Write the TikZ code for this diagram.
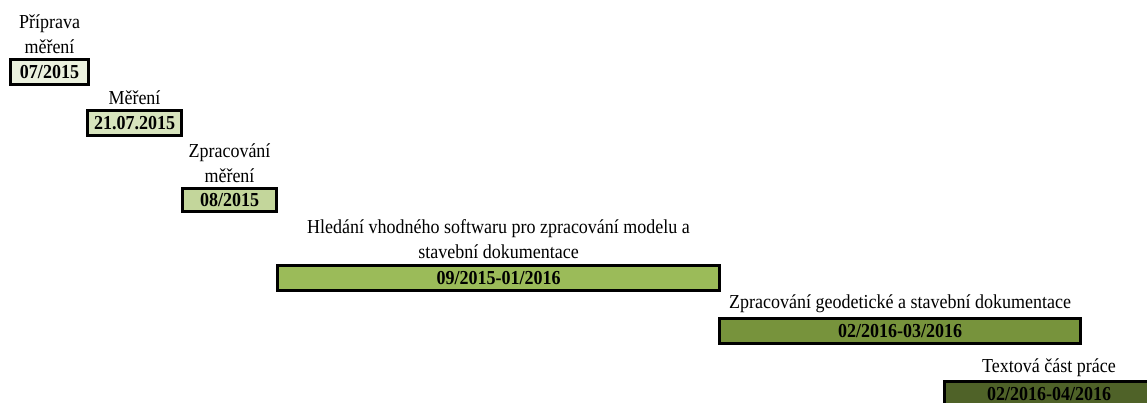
\documentclass[tikz,border=0pt]{standalone}
\usepackage{graphicx}
\usepackage{fontspec}
\setmainfont{Liberation Serif}
\usetikzlibrary{positioning}
\definecolor{cA}{HTML}{EBF1DE}
\definecolor{cB}{HTML}{D7E4BD}
\definecolor{cC}{HTML}{C3D69B}
\definecolor{cD}{HTML}{9BBB59}
\definecolor{cE}{HTML}{77933C}
\definecolor{cF}{HTML}{4F6228}
\newcommand\tall[1]{\scalebox{1}[1.1]{#1}}
\newcommand\lbl[1]{\scalebox{1}[1.1]{\begin{tabular}[b]{@{}c@{}}#1\end{tabular}}}
\tikzset{
  datebox/.style={draw=black, line width=3pt, rectangle, inner sep=0pt,
    minimum height=25pt, font=\fontsize{18}{22.7}\selectfont\bfseries, text=black},
  tasklabel/.style={inner sep=0pt, text depth=0pt,
    font=\fontsize{18}{22.7}\selectfont, text=black}
}
\begin{document}
\begin{tikzpicture}[x=1pt,y=-1pt]
\path[use as bounding box] (0,0) rectangle (1147,403);
\clip (0,0) rectangle (1147,403);
\node[datebox, fill=cA, minimum width=78pt] (b1) at (49.5,72.5) {\tall{07/2015}};
\node[datebox, fill=cB, minimum width=94pt] (b2) at (134.5,123) {\tall{21.07.2015}};
\node[datebox, fill=cC, minimum width=94pt, minimum height=23pt] (b3) at (229.5,200) {\tall{08/2015}};
\node[datebox, fill=cD, minimum width=442pt] (b4) at (498.5,278) {\tall{09/2015-01/2016}};
\node[datebox, fill=cE, minimum width=361pt] (b5) at (900,331) {\tall{02/2016-03/2016}};
\node[datebox, fill=cF, minimum width=209pt] (b6) at (1049,394) {\tall{02/2016-04/2016}};
\node[tasklabel, above=5pt of b1] (l1) {\lbl{Příprava\\měření}};
\node[tasklabel, above=4pt of b2] (l2) {\lbl{Měření}};
\node[tasklabel, above=4pt of b3] (l3) {\lbl{Zpracování\\měření}};
\node[tasklabel, above=5pt of b4] (l4) {\lbl{Hledání vhodného softwaru pro zpracování modelu a\\stavební dokumentace}};
\node[tasklabel, above=8pt of b5] (l5) {\lbl{Zpracování geodetické a stavební dokumentace}};
\node[tasklabel, above=7pt of b6] (l6) {\lbl{Textová část práce}};
\end{tikzpicture}
\end{document}
